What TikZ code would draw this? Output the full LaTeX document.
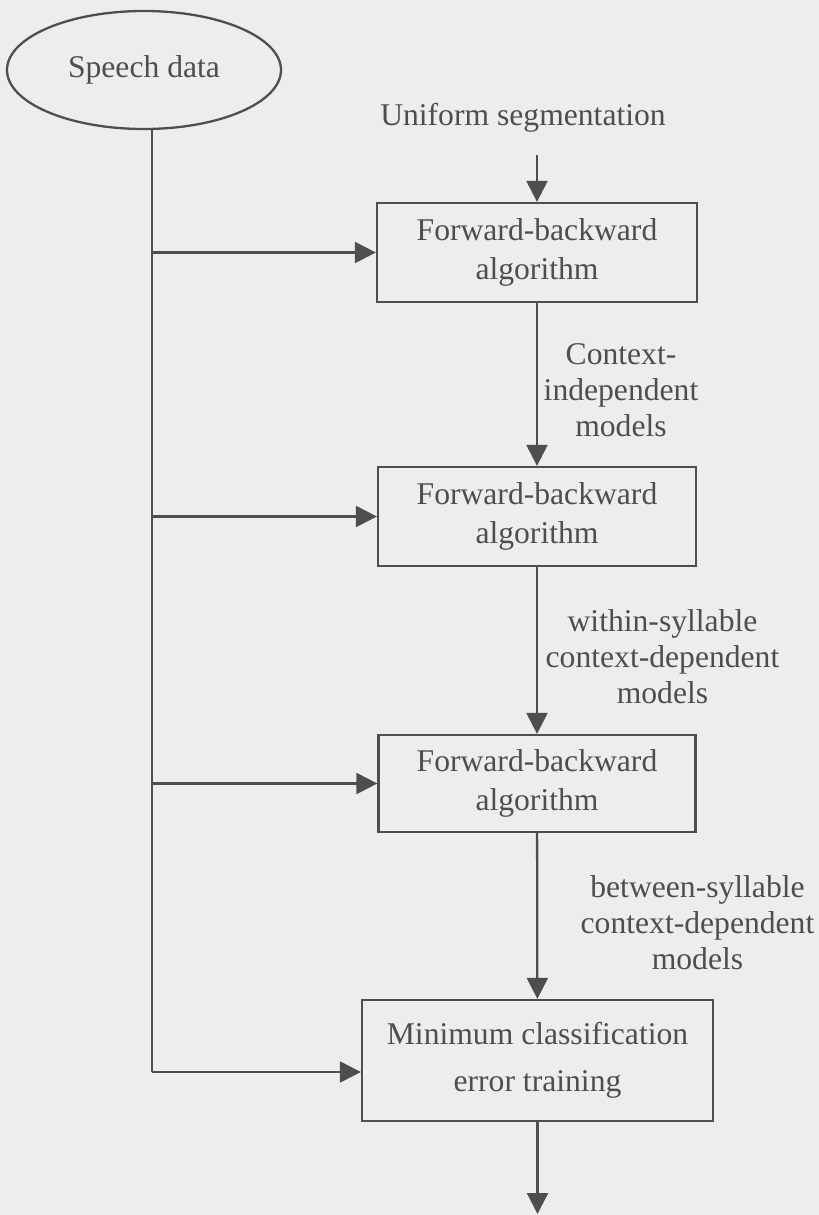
\documentclass[tikz,border=0pt]{standalone}
\usepackage{fontspec}
\setmainfont{Liberation Serif}
\usetikzlibrary{shapes.geometric,arrows.meta}
\definecolor{paper}{HTML}{EDEDED}
\definecolor{ink}{HTML}{4E4E4E}
\tikzset{
stepbox/.style={rectangle, draw=ink, fill=none, line width=1.3pt, align=center, text=ink, inner sep=0pt, minimum width=6.4cm, minimum height=1.98cm, font=\fontsize{18}{22}\selectfont},
dataellipse/.style={ellipse, draw=ink, fill=none, line width=1.3pt, text=ink, inner sep=0pt, minimum width=5.48cm, minimum height=2.36cm, font=\fontsize{18}{22}\selectfont},
modeltext/.style={align=center, text=ink, inner sep=0pt, font=\fontsize{18}{20.5}\selectfont},
trunkline/.style={draw=ink, line width=1.3pt},
flowarrow/.style={draw=ink, line width=1.3pt, -{Triangle[length=0.42cm,width=0.42cm]}},
}

\begin{document}
\begin{tikzpicture}
    \fill[paper] (0,0) rectangle (16.38,-24.30);
    \useasboundingbox (0,0) rectangle (16.38,-24.30);
    \node[dataellipse] at (2.88,-1.40) (sd) {Speech data};
    \node[modeltext] at (10.46,-2.36) (us) {Uniform segmentation};
    \node[stepbox] at (10.74,-5.05) (fb1) {Forward-backward\\algorithm};
    \node[stepbox, minimum width=6.36cm] at (10.74,-10.33) (fb2) {Forward-backward\\algorithm};
    \node[stepbox, minimum width=6.34cm, minimum height=1.94cm] at (10.74,-15.67) (fb3) {Forward-backward\\algorithm};
    \node[stepbox, minimum width=7.02cm, minimum height=2.42cm, font=\fontsize{18}{27}\selectfont] at (10.75,-21.21) (mcet) {Minimum classification\\error training};
    \node[modeltext] at (12.42,-7.80) (cim) {Context-\\independent\\models};
    \node[modeltext] at (13.25,-13.14) (wsm) {within-syllable\\context-dependent\\models};
    \node[modeltext] at (13.95,-18.46) (bsm) {between-syllable\\context-dependent\\models};
    \coordinate (trunktop) at (3.04,-2.58);
    \coordinate (trunkend) at (3.04,-21.44);
    \coordinate (out) at (10.75,-24.28);
    % main chain
    \draw[flowarrow, shorten <=0.45cm] (us.south -| fb1.north) -- (fb1.north);
    \draw[flowarrow] (fb1) -- (fb2);
    \draw[flowarrow] (fb2) -- (fb3);
    \draw[flowarrow] (fb3) -- (mcet);
    \draw[flowarrow] (mcet) -- (out);
    % speech data feeds every stage
    \draw[trunkline] (trunktop) -- (trunkend);
    \draw[flowarrow] (trunktop |- fb1.west) -- (fb1.west);
    \draw[flowarrow] (trunktop |- fb2.west) -- (fb2.west);
    \draw[flowarrow] (trunktop |- fb3.west) -- (fb3.west);
    \draw[flowarrow] (trunkend) -- (trunkend -| mcet.west);
\end{tikzpicture}
\end{document}
